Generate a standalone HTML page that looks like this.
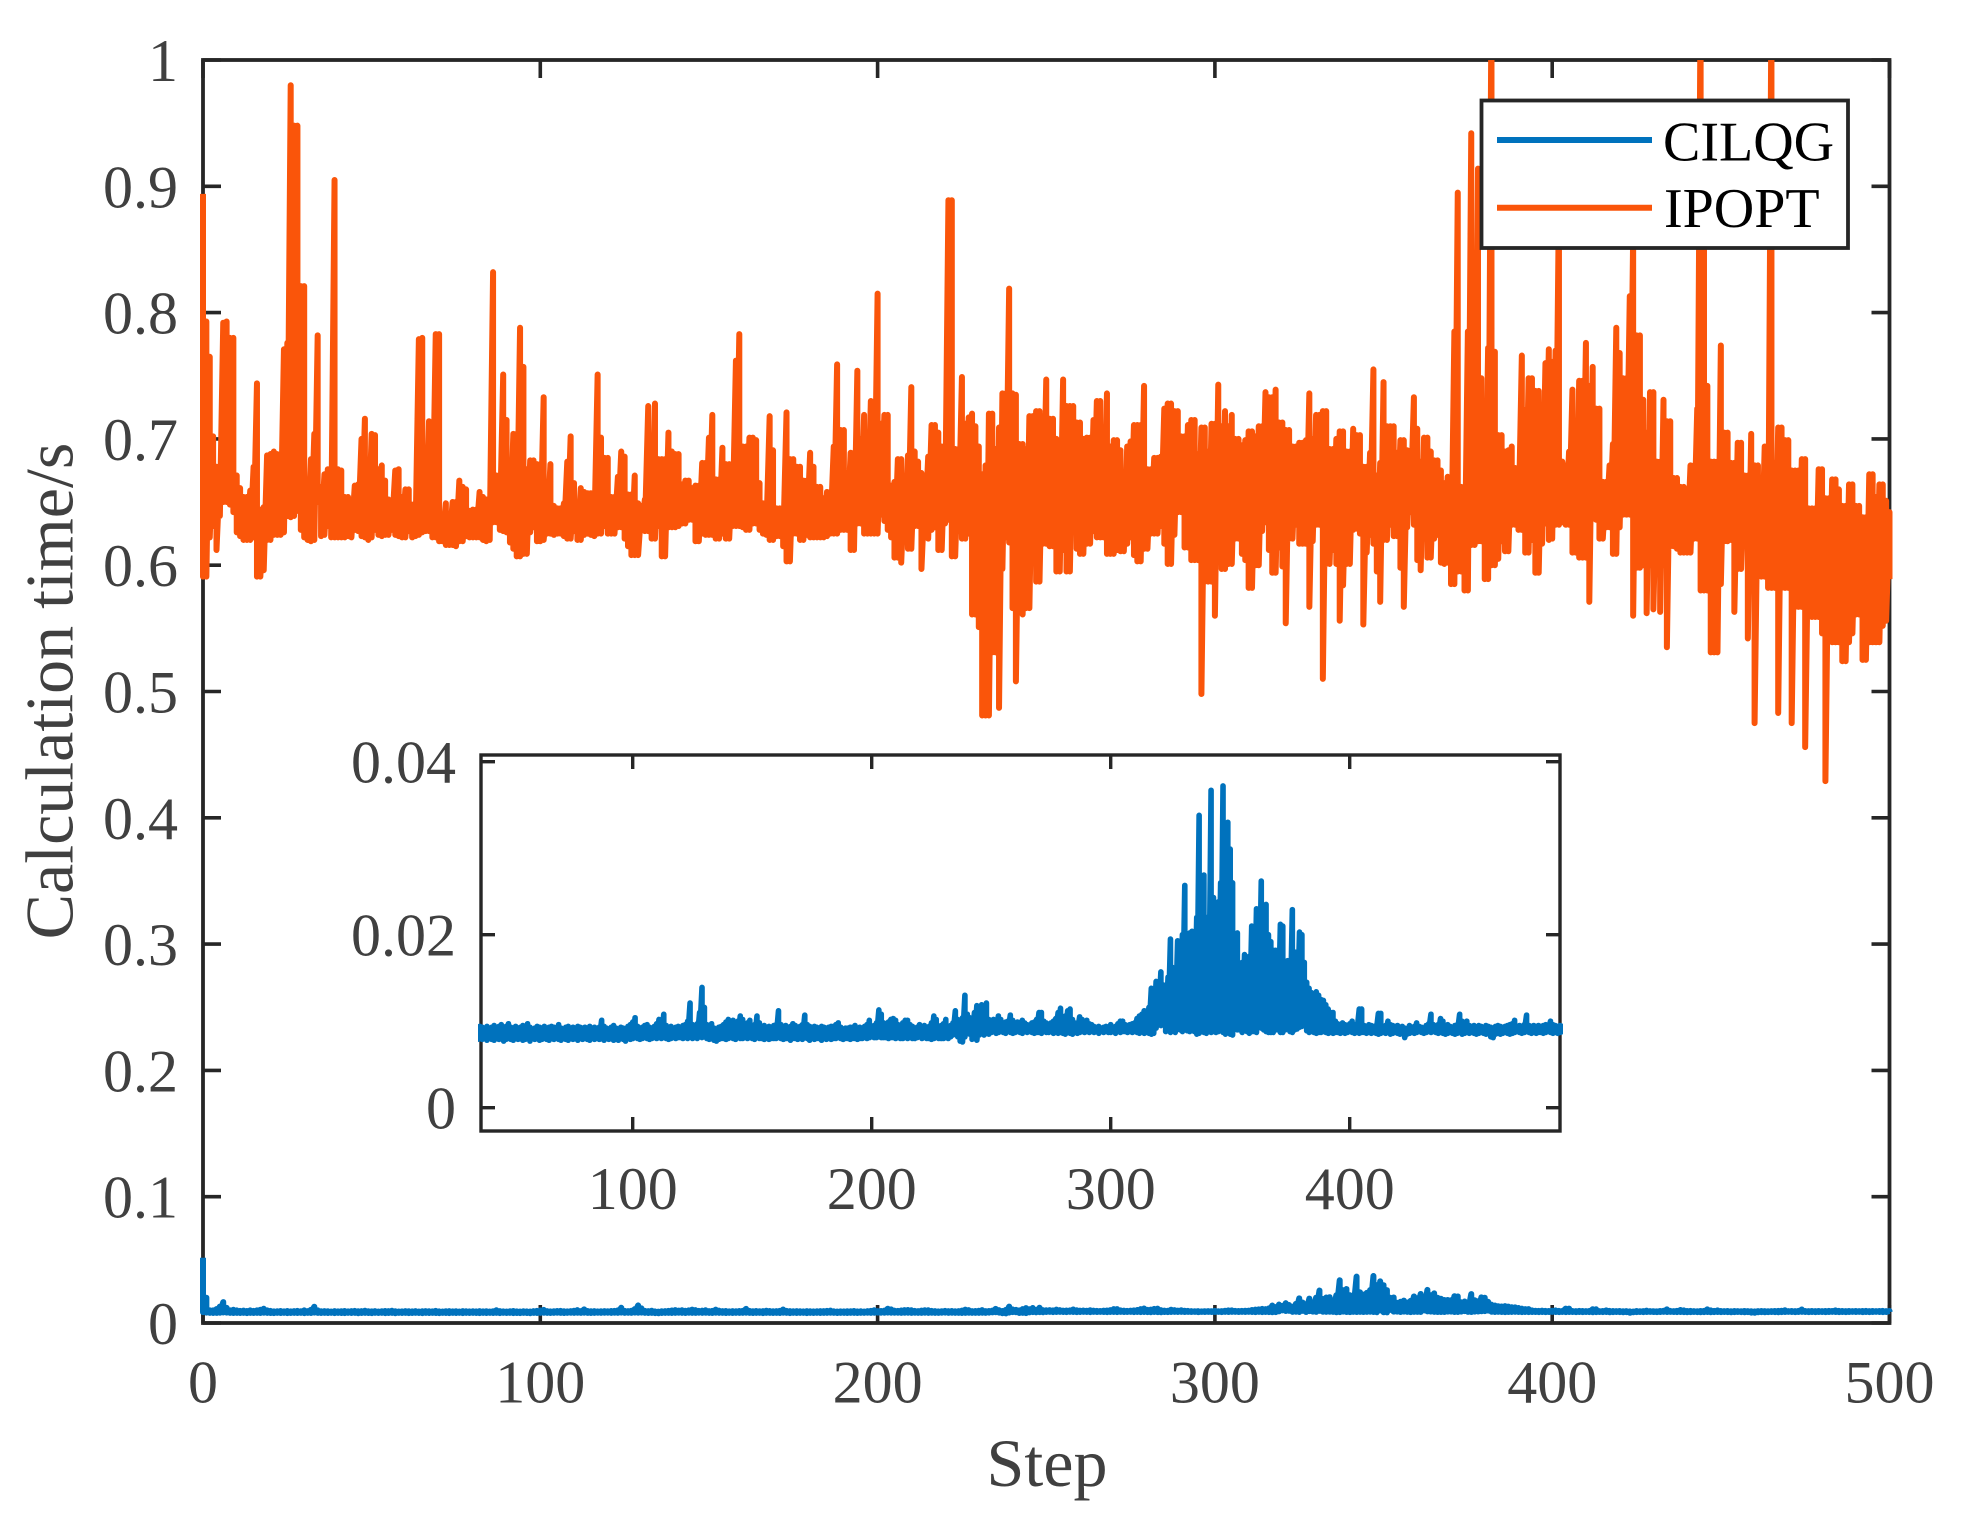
<!DOCTYPE html>
<html>
<head>
<meta charset="utf-8">
<title>Calculation time per step</title>
<style>
html,body{margin:0;padding:0;background:#fff;}
svg{display:block;}
text{font-family:"Liberation Serif",serif;}
</style>
</head>
<body>
<svg id="chart" xmlns="http://www.w3.org/2000/svg" width="1974" height="1532" viewBox="0 0 1974 1532">
<defs>
<clipPath id="main-clip"><rect x="190" y="60" width="1710" height="1263"></rect></clipPath>
<clipPath id="inset-clip"><rect x="478" y="755" width="1085" height="376"></rect></clipPath>
</defs>
<rect x="0" y="0" width="1974" height="1532" fill="#fff"></rect>
<g id="main-axes"></g>
<g id="main-series" clip-path="url(#main-clip)"></g>
<text x="1047" y="1486" font-size="68" fill="#404040" text-anchor="middle">Step</text>
<text transform="translate(72.5 691) rotate(-90)" font-size="68" fill="#404040" text-anchor="middle">Calculation time/s</text>
<g id="inset"></g>
<g>
<rect x="1481.5" y="100.5" width="366.5" height="147.5" fill="#fff" stroke="#262626" stroke-width="3.8"></rect>
<line x1="1497" x2="1652" y1="140" y2="140" stroke="#0072BD" stroke-width="6"></line>
<text x="1663" y="160.7" font-size="56" fill="#000">CILQG</text>
<line x1="1497" x2="1652" y1="207.7" y2="207.7" stroke="#FA550A" stroke-width="6"></line>
<text x="1664" y="227" font-size="56" fill="#000">IPOPT</text>
</g>
</svg>
<script>
// Values are calculation times in milliseconds; one high and one low reading per step (0..500).
const ipoptHigh = [
894,793,765,702,678,674,792,793,780,780,
671,661,654,654,659,678,744,644,646,687,
688,690,688,675,771,776,980,948,948,821,
821,654,684,704,782,662,672,676,675,905,
676,675,654,654,651,663,664,700,716,660,
704,703,676,679,667,652,651,675,676,654,
660,660,648,643,779,780,692,714,712,783,
783,640,649,640,650,650,667,662,660,643,
644,644,658,654,652,650,832,671,671,751,
715,663,704,704,788,757,676,683,683,680,
680,733,649,680,647,645,645,649,682,702,
665,647,661,658,657,657,649,751,701,685,
685,654,654,670,690,686,656,656,671,649,
647,652,726,690,728,684,684,684,705,690,
688,688,664,667,667,661,663,663,681,681,
701,719,668,668,693,680,680,680,762,783,
694,694,701,701,699,665,649,649,718,691,
645,645,645,721,684,684,678,678,667,667,
689,678,662,662,653,658,658,694,759,707,
707,657,689,689,754,700,719,680,730,700,
815,712,719,719,663,666,684,684,667,687,
741,690,682,673,659,686,711,711,705,694,
694,889,889,692,692,749,712,717,720,710,
694,672,679,720,720,692,709,736,736,819,
736,735,696,696,692,718,718,722,722,718,
747,716,716,700,697,747,726,726,726,713,
713,700,701,701,715,730,730,694,736,694,
699,699,691,674,694,698,711,711,711,742,
676,676,685,685,686,724,728,728,722,722,
702,702,711,715,715,688,709,709,690,712,
712,743,710,722,710,719,700,700,695,699,
706,706,702,710,710,737,733,733,739,713,
713,707,707,694,694,697,697,699,736,700,
719,719,722,722,692,692,700,706,706,690,
690,708,703,703,678,678,689,755,671,681,
745,710,710,710,689,699,699,691,691,733,
708,682,701,701,690,683,683,675,665,670,
670,785,895,662,659,785,942,786,914,748,
696,772,1050,769,703,703,690,691,694,677,
670,766,723,748,748,738,738,720,760,771,
761,770,890,682,679,690,739,679,746,746,
776,742,757,724,724,666,666,679,696,788,
768,748,748,813,860,782,782,731,705,737,
737,682,682,731,714,714,669,669,662,662,
651,679,679,724,1050,860,742,682,682,682,
774,705,705,681,681,697,697,671,671,704,
679,679,660,694,694,1050,681,709,709,699,
699,675,675,675,684,684,645,645,645,676,
676,653,653,668,668,660,647,647,664,664,
647,647,638,638,672,672,654,664,664,651,
642];
const ipoptLow = [
591,591,622,631,612,639,650,650,648,642,
626,623,620,620,620,622,591,591,596,620,
620,624,624,624,626,639,638,639,643,628,
622,620,619,620,650,623,624,631,622,622,
622,622,622,623,622,628,627,623,622,620,
622,628,624,623,624,624,628,624,623,622,
622,627,622,623,624,626,627,627,622,622,
619,619,616,616,616,615,619,619,623,622,
622,622,622,620,619,620,634,634,628,627,
626,618,613,607,607,609,609,626,630,619,
619,620,625,625,624,625,625,623,621,621,
627,620,620,624,625,624,623,625,625,631,
625,625,625,630,630,621,615,608,608,608,
628,627,627,621,621,631,607,607,630,630,
630,631,633,633,636,636,619,619,625,624,
624,624,621,621,625,621,621,631,631,631,
630,628,628,633,633,628,625,624,620,620,
623,623,615,603,603,625,625,620,620,624,
622,622,622,622,622,623,625,625,625,628,
628,628,612,612,633,633,625,625,625,625,
625,640,635,628,622,606,606,602,622,613,
613,631,631,597,625,621,628,630,612,612,
633,636,607,607,627,621,621,625,561,561,
551,481,481,481,531,531,487,597,622,618,
566,508,566,561,566,566,612,587,587,617,
617,615,615,595,595,612,595,595,634,613,
609,609,617,617,627,622,622,622,609,609,
609,612,611,611,617,622,608,603,603,613,
613,625,625,625,631,617,601,601,624,642,
642,614,614,604,604,604,498,587,587,587,
560,624,597,597,601,601,621,621,609,604,
582,582,600,600,627,634,612,594,594,614,
599,554,621,621,632,617,617,617,567,619,
632,632,510,601,601,612,601,556,584,601,
601,628,629,625,553,610,624,617,595,571,
620,620,632,623,623,598,567,630,642,632,
604,596,625,606,606,621,624,602,601,602,
585,585,595,595,580,580,616,616,619,619,
589,589,600,600,605,619,611,611,632,632,
628,628,610,610,620,594,594,617,633,620,
621,632,632,634,632,632,610,610,606,606,
606,571,645,636,621,621,630,630,609,609,
630,640,640,640,560,598,598,600,562,600,
565,598,563,600,535,615,615,613,610,610,
610,610,621,621,580,580,580,531,531,531,
585,619,619,620,563,597,597,620,542,612,
475,612,591,591,582,582,582,483,582,582,
582,475,567,567,567,456,559,559,559,559,
546,429,546,539,539,539,524,524,539,546,
561,561,525,525,539,539,539,539,552,556,
589];
const cilqgHigh = [
51.7,20,10,10,11,13,16.5,12,10,10.5,
10,9.6,9.8,9.5,10,9.6,10,10.5,11.3,10,
9.6,9.2,9.3,9.5,9.2,9.5,9.2,9.4,9.6,9.3,
10,9.4,10.5,12.9,10,9.3,9.4,9.3,9.1,9.4,
9.2,9.3,9.5,9.2,9.4,9.6,9.3,9.4,9.7,9.3,
9.2,9.4,9.1,9.3,9.5,9.4,9.7,9.3,9.1,9.2,
9.4,9.3,9.2,9.4,9.1,9.3,9.4,9.3,9.2,9.6,
9.2,9.1,9.3,9.4,9.2,9.3,9.1,9.4,9.3,9.2,
9.3,9.2,9.4,9.2,9.3,9.1,9.3,10.1,9.4,9.2,
9.1,9.3,9.5,9.2,9.1,9.3,9.2,9.1,9.4,9.6,
9.9,10.4,9.4,9.2,9.3,9.5,9.6,9.3,9.2,9.4,
9.7,10.2,9.4,10.8,9.5,9.3,9.4,9.2,9.3,9.4,
9.3,9.5,9.6,10,12.1,9.6,9.4,9.7,11,13.9,
11.6,9.6,9.4,9.7,9.2,9,9.3,9.4,9.6,9.9,
10.2,9.8,10.1,9.7,10,10.6,10.2,9.6,9.8,10.1,
9.4,9.6,10.6,9.8,9.4,9.5,9.2,9.4,9.3,9.5,
9.6,11.2,9.6,9.3,9.5,9.3,9.4,9.7,9.5,9.3,
9.4,9.6,10.7,9.6,9.4,9.3,9.4,9.3,9.2,9.4,
9.3,9.2,9.3,9.4,9.4,9.6,9.8,9.3,9.1,9.2,
9.2,9.3,9.3,9.5,9.2,9.3,9.1,9.4,9.6,10.1,
9.4,9.5,9.8,11.3,10.8,9.8,9.6,9.9,10.2,10.3,
10.1,9.6,9.4,9.8,10.1,10.1,9.6,9.4,9.2,9.3,
9.6,9.4,9.5,9.3,9.4,9.8,10.6,10.2,9.4,9.5,
9.7,10.2,9.4,9.5,9.8,11.2,10.2,9.5,10.4,13,
10.8,10.4,10,11,11.8,10.9,11.9,10.4,12.1,10.2,
10.1,10.2,10,10.6,10.2,9.8,9.9,10,10.7,10.1,
9.8,9.9,9.7,10.1,9.8,9.6,9.5,9.8,9.9,10.2,
11,11,10,9.8,9.6,9.8,10,10.3,11,11.5,
10.4,10.6,11.2,11.4,10.2,9.8,9.7,10.5,10.2,9.8,
10.1,9.7,9.6,9.4,9.3,9.4,9.2,9.3,9.4,9.3,
9.6,9.3,9.4,9.7,10,10,9.6,9.5,9.6,9.7,
9.8,10.3,10.6,10.8,11.2,11,11.6,13.8,12.6,14.6,
13.5,15.7,14.2,12.8,15.1,19.5,16.2,14.8,19.3,16.4,
20,25.7,19,20.2,20.4,18,22,33.8,26,26.9,
22,20,36.7,24.3,22.5,23.8,26,37.2,30,33,
29.9,26,20,20.2,16,16.8,17.7,16.2,17.5,21,
19.6,23,20.4,26.2,22,23.5,20,19.2,18.2,18.2,
18,21.2,21,16.4,17,16,22.9,18,17.2,20.3,
20,16.8,14.5,13.8,13.3,13.1,13.4,13,12.5,12.4,
11.9,11.4,11,11,10,9.7,9.6,9.8,9.6,9.5,
9.7,10,9.6,9.5,11.4,11.4,9.5,9.4,9.6,9.5,
9.4,9.5,10.9,10.9,9.4,9.5,10,9.6,9.5,9.4,
9.5,9.3,9.4,9.2,9.1,9.5,9.3,9.4,9.8,9.4,
9.3,9.2,9.5,9.7,10.8,9.6,9.4,9.6,10.3,10,
9.5,9.6,9.4,9.3,9.5,9.6,10.8,10,9.6,10,
9.5,9.4,9.5,9.3,9.5,9.4,9.3,9.5,9.4,9.3,
9.2,9.4,9.5,9.4,9.3,9.4,9.5,9.6,9.7,10.1,
9.4,9.5,9.4,9.6,10.7,9.5,9.4,9.5,9.4,9.5,
9.4,9.5,9.6,9.5,10,9.6,9.5,9.4,9.5,9.4,
9.5,9.4,9.5,9.6,9.4,9.5,9.4,9.5,9.6,9.4,
9.5];
const cilqgLow = [
8.6,8.2,8,7.9,8,8.1,8.3,8.2,8,7.9,
8,7.9,8,7.8,8,7.9,8,7.9,8.1,8,
7.9,7.8,8,7.9,8,7.8,7.9,8,7.9,8,
7.8,8,7.9,8.2,8,7.9,8,7.9,8,7.8,
8,7.9,7.8,8,7.9,8,7.7,7.9,8,7.9,
7.8,8,7.9,8,7.8,7.9,8,7.7,8,7.9,
8,7.8,7.9,8,7.9,7.8,8,7.9,8,7.9,
7.8,8,7.9,7.8,8,7.9,8,7.8,8,7.9,
8,7.9,7.8,8,7.9,8,7.9,8,7.8,8,
7.9,8,7.8,7.9,7.8,8,7.9,7.7,8,7.9,
8,8.1,8,7.9,8,8.1,8,7.9,8,8.1,
8,8.1,8,8.1,8,7.9,8,8.1,8,8.1,
8.1,8,8.1,8,8.2,8,8.1,8,8.2,8.1,
8.2,8,7.9,8,7.8,7.7,7.9,8,8,7.9,
8,8.1,8,7.9,8.1,8,8,8.1,8,8.1,
8,7.9,8.1,8,8,7.9,8,7.9,8,8,
8,8.1,8,7.9,8,8,7.8,8,8,7.9,
8,7.9,8.1,8,7.8,8,7.9,8,8,7.8,
8,7.9,8,7.9,8,8,8.1,8,7.9,8,
8,7.9,8,8,7.9,8,8,8.1,8,8.1,
8.2,8.1,8.1,8.2,8.1,8.1,8.1,8,8.1,8.1,
8,8.1,8,8,8.1,8,8.1,8,8,8.1,
8.2,8,8.1,8,8,7.9,8,8.1,8,8,
8,8.1,8,8.2,8.4,8.5,8.2,7.7,7.6,8.2,
8.6,8.5,7.9,8,7.8,8.4,8.6,8.4,8.6,8.5,
8.7,8.8,8.6,8.7,8.8,8.7,8.6,8.8,8.7,8.6,
8.7,8.8,8.7,8.6,8.8,8.7,8.8,8.7,8.6,8.7,
8.7,8.6,8.8,8.7,8.7,8.8,8.6,8.7,8.6,8.7,
8.6,8.5,8.7,8.6,8.5,8.7,8.6,8.7,8.8,8.7,
8.8,8.7,8.8,8.7,8.8,8.6,8.8,8.7,8.8,8.7,
8.7,8.8,8.6,8.8,8.7,8.8,8.8,8.7,8.8,8.7,
8.8,8.7,8.6,8.8,8.6,8.7,8.6,8.5,8.6,9.2,
10,9.5,9.6,8.8,8.9,8.7,9.6,8.7,9.4,9,
8.8,9.6,8.9,8.8,8.9,8.8,8.5,8.6,9,8.7,
8.6,8.8,8.7,8.8,8.7,8.8,8.9,8.7,8.5,10,
8.5,8.4,10.4,9,9,8.7,9,8.8,8.6,8.8,
8.8,8.7,10,9.2,9,8.8,8.7,8.7,8.7,9,
9,8.7,8.7,9,9.4,8.8,8.7,9,9.1,9.3,
9.4,9.8,8.9,8.7,8.8,8.7,8.6,8.7,8.7,8.8,
8.7,8.6,8.7,8.6,8.7,8.7,8.6,8.7,8.6,8.7,
8.8,8.7,8.6,8.7,8.6,8.7,8.7,8.6,8.7,8.6,
8.7,8.6,8.5,8.6,8.7,8.6,8.7,8.5,8.6,8.7,
8.6,8.5,8.6,8.1,8.5,8.6,8.7,8.6,8.7,8.8,
8.7,8.6,8.7,8.8,8.7,8.8,8.7,8.6,8.7,8.6,
8.5,8.6,8.7,8.6,8.5,8.6,8.7,8.5,8.6,8.7,
8.6,8.7,8.6,8.5,8.6,8.7,8.6,8.5,8.6,8.2,
8.1,8.5,8.6,8.5,8.6,8.7,8.6,8.5,8.6,8.7,
8.8,8.7,8.6,8.7,8.8,8.7,8.6,8.7,8.6,8.7,
8.7,8.6,8.7,8.8,8.7,8.6,8.7,8.6,8.7,8.8,
8.7,8.8,8.6,8.7,8.6,8.7,8.8,8.7,8.6,8.7,
8.8];
const mainXTicks = [0, 100, 200, 300, 400, 500];
const mainYTicks = [0, 0.1, 0.2, 0.3, 0.4, 0.5, 0.6, 0.7, 0.8, 0.9, 1];
const insetXTicks = [100, 200, 300, 400];
const insetYTicks = [0, 0.02, 0.04];

const SVG_NS = 'http://www.w3.org/2000/svg';
const AXIS_COLOR = '#262626';
const LABEL_COLOR = '#404040';

const mainBox = {left: 203, right: 1889.5, top: 60, bottom: 1323};
const insetBox = {left: 481, right: 1560, top: 755, bottom: 1131};
const mainX = v => mainBox.left + (v - 0) / 500 * (mainBox.right - mainBox.left);
const mainY = v => mainBox.bottom - (v - 0) / 1 * (mainBox.bottom - mainBox.top);
const insetX = v => 632.7 + (v - 100) * 2.39;
const insetY = v => 1107.7 - v * 8650;

function make(parent, tag, attrs, text) {
  const el = document.createElementNS(SVG_NS, tag);
  for (const k in attrs) el.setAttribute(k, attrs[k]);
  if (text !== undefined) el.textContent = text;
  parent.appendChild(el);
  return el;
}

function seriesPath(high, low, xFn, yFn) {
  let d = '';
  for (let i = 0; i < high.length; i++) {
    const x = xFn(i).toFixed(2);
    d += (i === 0 ? 'M' : 'L') + x + ' ' + yFn(high[i] / 1000).toFixed(2);
    d += 'L' + x + ' ' + yFn(low[i] / 1000).toFixed(2);
  }
  return d;
}

function drawBox(group, box, strokeWidth) {
  const frame = make(group, 'rect', {x: box.left, y: box.top, width: box.right - box.left, height: box.bottom - box.top, fill: '#fff', stroke: AXIS_COLOR, 'stroke-width': strokeWidth});
  
  
}

function drawTicks(group, box, xTicks, yTicks, xFn, yFn, len, strokeWidth) {
  for (const t of xTicks) {
    const x = xFn(t);
    const bottomTick = make(group, 'line', {x1: x, x2: x, y1: box.bottom, y2: box.bottom - len, stroke: AXIS_COLOR, 'stroke-width': strokeWidth});
    
    
    const topTick = make(group, 'line', {x1: x, x2: x, y1: box.top, y2: box.top + len, stroke: AXIS_COLOR, 'stroke-width': strokeWidth});
    
    
  }
  for (const t of yTicks) {
    const y = yFn(t);
    const leftTick = make(group, 'line', {x1: box.left, x2: box.left + len, y1: y, y2: y, stroke: AXIS_COLOR, 'stroke-width': strokeWidth});
    
    
    const rightTick = make(group, 'line', {x1: box.right, x2: box.right - len, y1: y, y2: y, stroke: AXIS_COLOR, 'stroke-width': strokeWidth});
    
    
  }
}

function drawLabels(group, xTicks, yTicks, xFn, yFn, xBaseline, yRight) {
  for (const t of xTicks) {
    const label = make(group, 'text', {x: xFn(t), y: xBaseline, 'font-size': 60, fill: LABEL_COLOR, 'text-anchor': 'middle'}, String(t));
    
    
  }
  for (const t of yTicks) {
    const label = make(group, 'text', {x: yRight, y: yFn(t) + 21, 'font-size': 60, fill: LABEL_COLOR, 'text-anchor': 'end'}, String(t));
    
    
  }
}

const mainAxes = document.getElementById('main-axes');
drawBox(mainAxes, mainBox, 3.8);
drawTicks(mainAxes, mainBox, mainXTicks, mainYTicks, mainX, mainY, 18, 3.6);
drawLabels(mainAxes, mainXTicks, mainYTicks, mainX, mainY, 1402.7, 178);

const mainSeries = document.getElementById('main-series');
const cilqgMain = make(mainSeries, 'path', {d: seriesPath(cilqgHigh, cilqgLow, mainX, mainY), fill: 'none', stroke: '#0072BD', 'stroke-width': 6, 'stroke-linejoin': 'round'});


const ipoptMain = make(mainSeries, 'path', {d: seriesPath(ipoptHigh, ipoptLow, mainX, mainY), fill: 'none', stroke: '#FA550A', 'stroke-width': 6, 'stroke-linejoin': 'round'});



const inset = document.getElementById('inset');
drawBox(inset, insetBox, 3.4);
drawTicks(inset, insetBox, insetXTicks, insetYTicks, insetX, insetY, 14, 3.4);
drawLabels(inset, insetXTicks, insetYTicks, insetX, insetY, 1209, 456);
const insetClip = make(inset, 'g', {'clip-path': 'url(#inset-clip)'});


const cilqgInset = make(insetClip, 'path', {d: seriesPath(cilqgHigh, cilqgLow, insetX, insetY), fill: 'none', stroke: '#0072BD', 'stroke-width': 5.6, 'stroke-linejoin': 'round'});


</script>
</body>
</html>
